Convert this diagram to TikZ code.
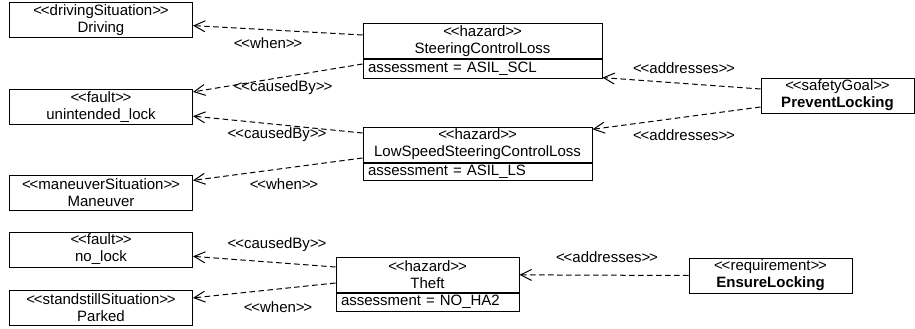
\documentclass[tikz,border=0pt]{standalone}
\usepackage{fontspec}
\setmainfont{Liberation Sans}
\usetikzlibrary{arrows.meta}
\newcommand{\stereo}[1]{<\kern-1.2pt<#1>\kern-1.2pt>}

\begin{document}
\begin{tikzpicture}[x=1pt, y=-1pt,
    cls/.style={rectangle, draw, line width=1pt, minimum width=183pt, minimum height=35pt, inner sep=0pt, align=center, font=\fontsize{15}{17}\selectfont},
    attr/.style={rectangle, draw, line width=1pt, anchor=north west, align=left, inner xsep=5pt, inner ysep=0pt, minimum height=18pt, font=\fontsize{15}{17}\selectfont},
    lbl/.style={inner sep=0pt, font=\fontsize{15}{17}\selectfont},
    dep/.style={-{Straight Barb[length=11pt, width=11pt]}, dash pattern=on 5.5pt off 3.5pt, line width=1pt}
]
    \useasboundingbox (0,0) rectangle (915,329);

    % Situations and faults
    \node[cls] (drv) at (101,20.5) {\stereo{drivingSituation}\\Driving};
    \node[cls] (ulock) at (101,107) {\stereo{fault}\\unintended\_lock};
    \node[cls] (mnv) at (101,192.5) {\stereo{maneuverSituation}\\Maneuver};
    \node[cls] (nolock) at (101,249.5) {\stereo{fault}\\no\_lock};
    \node[cls] (prk) at (101,307.5) {\stereo{standstillSituation}\\Parked};

    % Hazards
    \node[cls, minimum width=239pt] (scl) at (482.5,41.5) {\stereo{hazard}\\SteeringControlLoss};
    \node[attr, text width=229pt] (scla) at (scl.south west) {assessment = ASIL\_SCL};
    \node[cls, minimum width=229pt] (ls) at (477.5,144.5) {\stereo{hazard}\\LowSpeedSteeringControlLoss};
    \node[attr, text width=219pt, minimum height=17pt] (lsa) at (ls.south west) {assessment = ASIL\_LS};
    \node[cls] (theft) at (427.5,274.5) {\stereo{hazard}\\Theft};
    \node[attr, text width=173pt] (thefta) at (theft.south west) {assessment = NO\_HA2};

    % Goal and requirement
    \node[cls, minimum width=153pt] (prev) at (837.5,95.5) {\stereo{safetyGoal}\\\textbf{PreventLocking}};
    \node[cls, minimum width=163pt] (ens) at (770.5,275.5) {\stereo{requirement}\\\textbf{EnsureLocking}};

    % Dependencies
    \draw[dep] ([yshift=6.5pt]scl.west) -- (drv);
    \draw[dep] ([yshift=5pt]scla.west) -- (ulock);
    \draw[dep] ([yshift=11.5pt]ls.west) -- (ulock);
    \draw[dep] ([yshift=-13.5pt]ls.west) -- (mnv);
    \draw[dep] ([yshift=7.5pt]theft.west) -- (nolock);
    \draw[dep] ([yshift=-8.5pt]theft.west) -- (prk);
    \draw[dep] ([yshift=6.5pt]prev.west) -- (scla);
    \draw[dep] ([yshift=-11.5pt]prev.west) -- (ls);
    \draw[dep] (ens.west) -- (theft);

    % Labels
    \node[lbl] (l1) at (268,43) {\stereo{when}};
    \node[lbl] (l2) at (283,88) {\stereo{causedBy}};
    \node[lbl] (l3) at (277,135) {\stereo{causedBy}};
    \node[lbl] (l4) at (284,184) {\stereo{when}};
    \node[lbl] (l5) at (277,245) {\stereo{causedBy}};
    \node[lbl] (l6) at (278,307) {\stereo{when}};
    \node[lbl] (l7) at (684,68) {\stereo{addresses}};
    \node[lbl] (l8) at (684,135) {\stereo{addresses}};
    \node[lbl] (l9) at (607,257) {\stereo{addresses}};
\end{tikzpicture}
\end{document}
